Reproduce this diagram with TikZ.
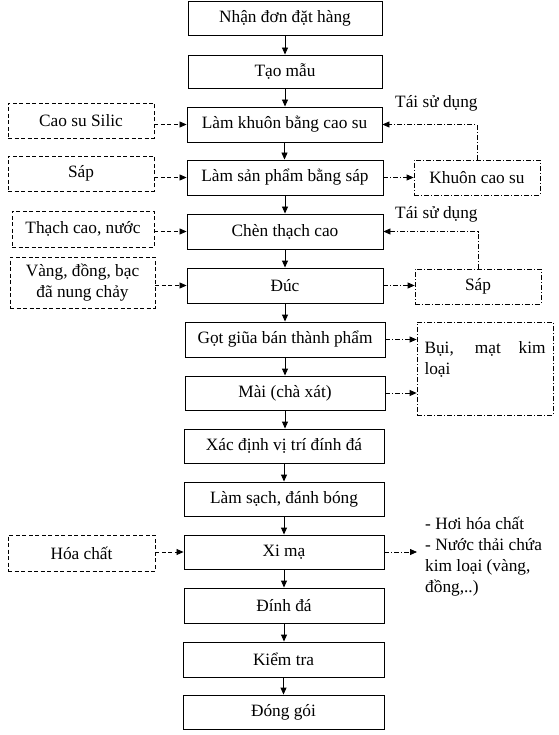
\documentclass[tikz,border=0pt]{standalone}
\usepackage{fontspec}
\setmainfont{Liberation Serif}
\newfontfamily\tnrfont{Liberation Serif}
\usetikzlibrary{arrows.meta}
\begin{document}
\begin{tikzpicture}[x=1pt,y=-1pt,
  every node/.style={font=\tnrfont\fontsize{17.3}{21}\selectfont},
  mainbox/.style={draw=black, line width=0.9pt, inner sep=0pt, align=center},
  inbox/.style={draw=black, line width=0.8pt, dash pattern=on 4pt off 2.5pt, inner sep=0pt, align=center},
  outbox/.style={draw=black, line width=0.8pt, dash pattern=on 5pt off 2pt on 1pt off 2pt, inner sep=0pt, align=center},
  tip/.style={-{Triangle[length=7pt,width=6pt]}},
  flow/.style={tip, line width=0.9pt},
  inflow/.style={tip, line width=0.8pt, dash pattern=on 4pt off 2.5pt},
  outflow/.style={tip, line width=0.8pt, dash pattern=on 5pt off 2pt on 1pt off 2pt},
  lbl/.style={inner sep=0pt}
]
\useasboundingbox (0,0) rectangle (558,735);

% main column
\node[mainbox, minimum width=194pt, minimum height=34pt] (n1) at (285,18) {Nhận đơn đặt hàng};
\node[mainbox, minimum width=194pt, minimum height=33pt] (n2) at (285,71.5) {Tạo mẫu};
\node[mainbox, minimum width=195pt, minimum height=35pt] (n3) at (284.5,124.5) {Làm khuôn bằng cao su};
\node[mainbox, minimum width=196pt, minimum height=35pt] (n4) at (285,177.5) {Làm sản phẩm bằng sáp};
\node[mainbox, minimum width=196pt, minimum height=35pt] (n5) at (285,231.5) {Chèn thạch cao};
\node[mainbox, minimum width=196pt, minimum height=35pt] (n6) at (285,285.5) {Đúc};
\node[mainbox, minimum width=200pt, minimum height=35pt] (n7) at (285,339.5) {Gọt giũa bán thành phẩm};
\node[mainbox, minimum width=200pt, minimum height=34pt] (n8) at (285,393) {Mài (chà xát)};
\node[mainbox, minimum width=200pt, minimum height=34pt] (n9) at (284,446) {Xác định vị trí đính đá};
\node[mainbox, minimum width=200pt, minimum height=34pt] (n10) at (284,499) {Làm sạch, đánh bóng};
\node[mainbox, minimum width=200pt, minimum height=34pt] (n11) at (284,552) {Xi mạ};
\node[mainbox, minimum width=200pt, minimum height=35pt] (n12) at (284,605.5) {Đính đá};
\node[mainbox, minimum width=201pt, minimum height=35pt] (n13) at (283.5,659.5) {Kiểm tra};
\node[mainbox, minimum width=201pt, minimum height=34pt] (n14) at (283.5,712) {Đóng gói};

\foreach \a/\b in {n1/n2,n2/n3,n3/n4,n4/n5,n5/n6,n6/n7,n7/n8,n8/n9,n9/n10,n10/n11,n11/n12,n12/n13,n13/n14}
  \draw[flow] (\a.south) -- (\a.south |- \b.north);

% inputs
\node[inbox, minimum width=146pt, minimum height=35pt] (l1) at (81,120.5) {Cao su Silic};
\node[inbox, minimum width=146pt, minimum height=35pt] (l2) at (81,173.5) {Sáp};
\node[inbox, minimum width=142pt, minimum height=36pt] (l3) at (83,229) {Thạch cao, nước};
\node[inbox, minimum width=145pt, minimum height=51pt] (l4) at (82.5,282.5) {Vàng, đồng, bạc\\đã nung chảy};
\node[inbox, minimum width=147pt, minimum height=36pt] (l5) at (81.5,553) {Hóa chất};

\draw[inflow] (n3.west -| l1.east) -- (n3.west);
\draw[inflow] (n4.west -| l2.east) -- (n4.west);
\draw[inflow] (n5.west -| l3.east) -- (n5.west);
\draw[inflow] (n6.west -| l4.east) -- (n6.west);
\draw[inflow] (n11.west -| l5.east) -- (n11.west);

% outputs
\node[outbox, minimum width=126pt, minimum height=35pt] (r1) at (477,177.5) {Khuôn cao su};
\node[outbox, minimum width=126pt, minimum height=35pt] (r2) at (478,286.5) {Sáp};
\node[outbox, minimum width=136pt, minimum height=93pt] (r3) at (485,368.5) {};
\node[lbl, align=left] (r3t) at (485,359) {\makebox[121pt][s]{Bụi, mạt kim}\\loại};

\draw[outflow] (n4.east) -- (n4.east -| r1.west);
\draw[outflow] (n6.east) -- (n6.east -| r2.west);
\draw[outflow] (n7.east) -- (n7.east -| r3.west);
\draw[outflow] (n8.east) -- (n8.east -| r3.west);

% reuse loops
\draw[outflow] (r1.north) |- (n3.east);
\draw[outflow] (r2.north) |- (n5.east);
\node[lbl, anchor=west] (t1) at (395,103) {Tái sử dụng};
\node[lbl, anchor=west] (t2) at (395,214) {Tái sử dụng};

% plating emissions
\coordinate (x1) at (417,552);
\draw[outflow] (n11.east) -- (x1);
\node[lbl, anchor=west, align=left] (x1t) at (425,557) {- Hơi hóa chất\\- Nước thải chứa\\kim loại (vàng,\\đồng,..)};
\end{tikzpicture}
\end{document}
